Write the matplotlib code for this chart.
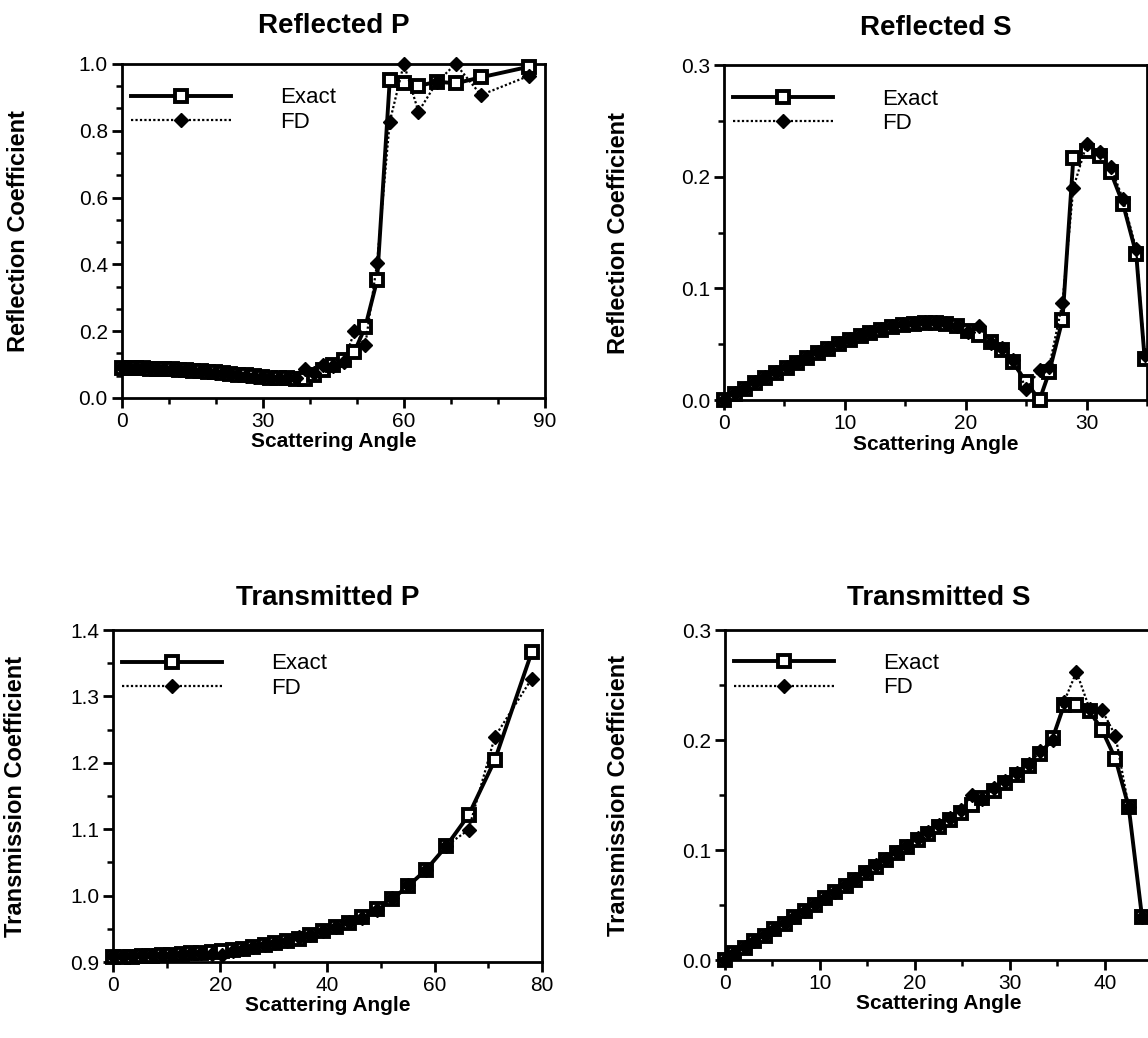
#!/usr/bin/env python3

# Reflection / transmission coefficients vs scattering angle, exact vs FD

import matplotlib
matplotlib.use("Agg")
import matplotlib.pyplot as plt
from matplotlib.ticker import MultipleLocator, FormatStrFormatter

plt.rcParams['font.family'] = ['Liberation Sans', 'DejaVu Sans']

# Reflected P
rp_angle = [0.0, 1.5, 3.0, 4.5, 6.0, 7.5, 9.0, 10.6, 12.1, 13.6, 15.2, 16.8, 18.3,
            19.9, 21.5, 23.1, 24.8, 26.5, 28.1, 29.9, 31.6, 33.4, 35.2, 37.1, 39.0,
            40.9, 42.9, 45.0, 47.2, 49.5, 51.8, 54.3, 57.0, 60.0, 63.1, 67.0, 71.0,
            76.4, 86.7]
rp_exact = [0.090, 0.090, 0.089, 0.089, 0.088, 0.087, 0.087, 0.086, 0.085, 0.084,
            0.082, 0.081, 0.079, 0.077, 0.075, 0.073, 0.070, 0.068, 0.065, 0.063,
            0.061, 0.060, 0.059, 0.058, 0.056, 0.070, 0.085, 0.100, 0.114, 0.139,
            0.213, 0.352, 0.952, 0.942, 0.934, 0.947, 0.942, 0.960, 0.992]
rp_fd = [0.092, 0.091, 0.090, 0.089, 0.089, 0.088, 0.087, 0.086, 0.085, 0.083,
         0.082, 0.080, 0.078, 0.076, 0.074, 0.072, 0.069, 0.067, 0.064, 0.062,
         0.061, 0.060, 0.059, 0.060, 0.088, 0.075, 0.100, 0.096, 0.108, 0.199,
         0.158, 0.403, 0.827, 1.000, 0.857, 0.945, 1.000, 0.907, 0.965]

# Reflected S
rs_angle = [0.0, 0.9, 1.7, 2.6, 3.4, 4.3, 5.2, 6.0, 6.9, 7.8, 8.6, 9.5, 10.4, 11.3,
            12.1, 13.0, 13.9, 14.8, 15.7, 16.6, 17.5, 18.4, 19.3, 20.2, 21.1, 22.1,
            23.0, 23.9, 25.0, 26.1, 26.9, 28.0, 28.9, 30.0, 31.1, 32.0, 33.0, 34.1,
            34.8]
rs_exact = [0.000, 0.005, 0.010, 0.015, 0.020, 0.024, 0.029, 0.033, 0.038, 0.042,
            0.046, 0.050, 0.054, 0.057, 0.060, 0.063, 0.065, 0.067, 0.068, 0.069,
            0.069, 0.068, 0.066, 0.062, 0.058, 0.052, 0.045, 0.034, 0.016, 0.000,
            0.025, 0.072, 0.217, 0.223, 0.219, 0.204, 0.176, 0.131, 0.037]
rs_fd = [0.000, 0.006, 0.011, 0.016, 0.021, 0.025, 0.030, 0.034, 0.039, 0.043,
         0.047, 0.051, 0.055, 0.058, 0.061, 0.064, 0.066, 0.068, 0.069, 0.070,
         0.070, 0.069, 0.066, 0.061, 0.066, 0.051, 0.047, 0.036, 0.010, 0.027,
         0.030, 0.087, 0.190, 0.229, 0.222, 0.209, 0.180, 0.135, 0.040]

# Transmitted P
tp_angle = [0.0, 1.8, 3.6, 5.4, 7.3, 9.1, 10.9, 12.8, 14.6, 16.5, 18.4, 20.3, 22.3,
            24.2, 26.2, 28.3, 30.3, 32.4, 34.6, 36.8, 39.1, 41.5, 44.0, 46.5, 49.2,
            52.1, 55.1, 58.4, 62.1, 66.3, 71.2, 78.1]
tp_exact = [0.908, 0.908, 0.908, 0.909, 0.909, 0.910, 0.911, 0.912, 0.913, 0.914,
            0.915, 0.916, 0.918, 0.920, 0.922, 0.925, 0.928, 0.931, 0.935, 0.940,
            0.946, 0.952, 0.959, 0.968, 0.980, 0.995, 1.015, 1.039, 1.074, 1.121,
            1.204, 1.367]
tp_fd = [0.909, 0.909, 0.909, 0.910, 0.910, 0.911, 0.911, 0.912, 0.913, 0.913,
         0.912, 0.911, 0.917, 0.920, 0.923, 0.926, 0.929, 0.932, 0.937, 0.941,
         0.947, 0.953, 0.960, 0.966, 0.978, 0.996, 1.016, 1.038, 1.075, 1.099,
         1.239, 1.327]

# Transmitted S
ts_angle = [0.0, 1.0, 2.1, 3.1, 4.2, 5.2, 6.3, 7.3, 8.4, 9.5, 10.5, 11.6, 12.7, 13.7,
            14.8, 15.9, 17.0, 18.1, 19.2, 20.3, 21.4, 22.5, 23.7, 24.8, 26.0, 27.1,
            28.3, 29.5, 30.7, 32.0, 33.2, 34.5, 35.7, 37.0, 38.4, 39.7, 41.1, 42.5,
            43.9]
ts_exact = [0.000, 0.006, 0.011, 0.017, 0.022, 0.028, 0.033, 0.039, 0.045, 0.050,
            0.056, 0.062, 0.067, 0.073, 0.079, 0.085, 0.091, 0.097, 0.103, 0.109,
            0.115, 0.121, 0.127, 0.134, 0.141, 0.147, 0.154, 0.161, 0.168, 0.176,
            0.187, 0.202, 0.232, 0.232, 0.226, 0.209, 0.183, 0.139, 0.039]
ts_fd = [0.000, 0.006, 0.012, 0.017, 0.023, 0.028, 0.034, 0.039, 0.045, 0.051,
         0.056, 0.062, 0.068, 0.074, 0.080, 0.086, 0.092, 0.098, 0.104, 0.111,
         0.116, 0.123, 0.129, 0.136, 0.150, 0.146, 0.156, 0.163, 0.170, 0.178,
         0.190, 0.200, 0.235, 0.262, 0.228, 0.227, 0.204, 0.139, 0.039]


def draw_panel(ax, x, exact, fd, title, ylabel, xlim, ylim, xmaj, xmin, ymaj, ymin,
               title_pad, ylab_x):
    ax.plot(x, exact, color='black', lw=2.8, marker='s', ms=9, mfc='white',
            mec='black', mew=2.8, label='Exact', clip_on=False, zorder=3)
    ax.plot(x, fd, color='black', lw=1.6, ls=(0, (1, 1)), marker='D', ms=7,
            mfc='black', mec='black', label='FD', clip_on=False, zorder=4)
    ax.set_xlim(*xlim)
    ax.set_ylim(*ylim)
    ax.xaxis.set_major_locator(MultipleLocator(xmaj))
    ax.xaxis.set_minor_locator(MultipleLocator(xmin))
    ax.yaxis.set_major_locator(MultipleLocator(ymaj))
    ax.yaxis.set_minor_locator(MultipleLocator(ymin))
    ax.yaxis.set_major_formatter(FormatStrFormatter('%.1f'))
    ax.tick_params(which='major', direction='out', length=7, width=2,
                   labelsize=15, pad=3)
    ax.tick_params(which='minor', direction='out', length=4.5, width=1.8)
    for s in ax.spines.values():
        s.set_linewidth(2)
    ax.set_title(title, fontsize=20, fontweight='bold', pad=title_pad)
    ax.set_xlabel('Scattering Angle', fontsize=15, fontweight='bold')
    ax.set_ylabel(ylabel, fontsize=17, fontweight='bold')
    ax.xaxis.set_label_coords(0.5, -0.103)
    ax.yaxis.set_label_coords(ylab_x, 0.5)
    ax.legend(loc='upper left', bbox_to_anchor=(0.022, 0.93), frameon=False,
              fontsize=16, handlelength=4.5, handletextpad=2.2, labelspacing=0.15,
              borderpad=0, borderaxespad=0, numpoints=1)


fig = plt.figure(figsize=(11.48, 10.38), dpi=100)

ax1 = fig.add_axes([0.106, 0.6166, 0.3687, 0.3218])
draw_panel(ax1, rp_angle, rp_exact, rp_fd, 'Reflected P', 'Reflection Coefficient',
           (0, 90), (0, 1.0), 30, 10, 0.2, 0.2 / 3, 22, -0.217)

ax2 = fig.add_axes([0.6307, 0.6146, 0.3685, 0.3227])
draw_panel(ax2, rs_angle, rs_exact, rs_fd, 'Reflected S', 'Reflection Coefficient',
           (0, 35), (0, 0.3), 10, 5, 0.1, 0.05, 22, -0.222)

ax3 = fig.add_axes([0.0984, 0.0732, 0.3737, 0.3198])
draw_panel(ax3, tp_angle, tp_exact, tp_fd, 'Transmitted P', 'Transmission Coefficient',
           (0, 80), (0.9, 1.4), 20, 10, 0.1, 0.05, 18, -0.200)

ax4 = fig.add_axes([0.6315, 0.0751, 0.3724, 0.3179])
draw_panel(ax4, ts_angle, ts_exact, ts_fd, 'Transmitted S', 'Transmission Coefficient',
           (0, 45), (0, 0.3), 10, 5, 0.1, 0.05, 18, -0.222)

fig.savefig('out.png', dpi=100)
